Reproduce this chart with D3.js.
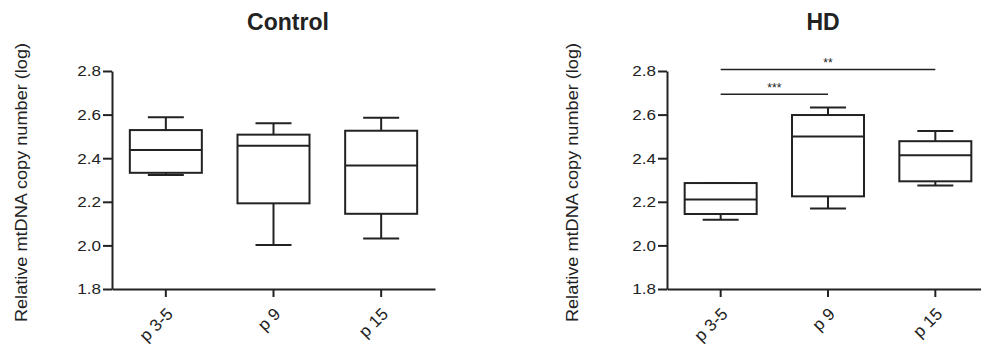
<!DOCTYPE html>
<html><head><meta charset="utf-8">
<script src="https://cdn.jsdelivr.net/npm/d3@7"></script>
<style>
html,body{margin:0;padding:0;background:#fff;}
svg{display:block;}
text{font-family:"Liberation Sans",Arial,sans-serif;fill:#222;}
</style></head>
<body>
<svg id="chart" width="981" height="348"></svg>
<script>
const categories = ["p 3-5", "p 9", "p 15"];
const yTicks = [1.8, 2.0, 2.2, 2.4, 2.6, 2.8];
const yLabel = "Relative mtDNA copy number (log)";

const controlMin    = [2.323, 2.002, 2.032];
const controlQ1     = [2.333, 2.193, 2.145];
const controlMedian = [2.438, 2.457, 2.367];
const controlQ3     = [2.529, 2.508, 2.526];
const controlMax    = [2.588, 2.560, 2.586];

const hdMin    = [2.118, 2.169, 2.275];
const hdQ1     = [2.144, 2.225, 2.294];
const hdMedian = [2.210, 2.500, 2.413];
const hdQ3     = [2.286, 2.598, 2.478];
const hdMax    = [2.286, 2.632, 2.525];

const hdSigFrom  = ["p 3-5", "p 3-5"];
const hdSigTo    = ["p 9", "p 15"];
const hdSigLevel = [2.693, 2.807];
const hdSigLabel = ["***", "**"];

const svg = d3.select("#chart");
const ink = "#222";
const FONT = '"Liberation Sans",Arial,sans-serif';

function panel(opts) {
  const {x0, x1, title, titleX, labelX, mins, q1s, meds, q3s, maxs, sig} = opts;
  const g = svg.append("g");
  const x = d3.scaleBand().domain(categories).range([x0, x1]).padding(0);
  const y = d3.scaleLinear().domain([1.8, 2.8]).range([289, 71]);

  // y axis
  const ya = g.append("g").attr("transform", `translate(${x0},0)`)
    .call(d3.axisLeft(y).tickValues(yTicks).tickFormat(d3.format(".1f")).tickSize(9).tickSizeOuter(0).tickPadding(2));
  ya.select(".domain").attr("stroke", ink).attr("stroke-width", 2);
  ya.selectAll(".tick line").attr("stroke", ink).attr("stroke-width", 2);
  ya.selectAll(".tick text").attr("font-size", 15.5).attr("fill", ink)
    .attr("x", 0).attr("transform", "translate(-11,0) scale(1.1,1)")
    .style("font-family", FONT);

  // x axis
  const xa = g.append("g").attr("transform", `translate(0,${y(1.8)})`)
    .call(d3.axisBottom(x).tickSize(8).tickSizeOuter(0));
  xa.select(".domain").attr("stroke", ink).attr("stroke-width", 2);
  xa.selectAll(".tick line").attr("stroke", ink).attr("stroke-width", 2);
  xa.selectAll(".tick text").remove();
  xa.selectAll(".tick").append("text")
    .attr("font-size", 17).attr("fill", ink)
    .attr("text-anchor", "end")
    .attr("transform", "translate(8,26) rotate(-45)")
    .style("font-family", FONT)
    .text(d => d);

  // boxes
  const bw = 72, cw = 36;
  categories.forEach((c, i) => {
    const cx = x(c) + x.bandwidth() / 2;
    const bg = g.append("g").attr("stroke", ink).attr("stroke-width", 2).attr("fill", "none");
    bg.append("line").attr("x1", cx).attr("x2", cx).attr("y1", y(maxs[i])).attr("y2", y(q3s[i]));
    bg.append("line").attr("x1", cx).attr("x2", cx).attr("y1", y(q1s[i])).attr("y2", y(mins[i]));
    bg.append("line").attr("x1", cx - cw/2).attr("x2", cx + cw/2).attr("y1", y(maxs[i])).attr("y2", y(maxs[i]));
    bg.append("line").attr("x1", cx - cw/2).attr("x2", cx + cw/2).attr("y1", y(mins[i])).attr("y2", y(mins[i]));
    bg.append("rect").attr("x", cx - bw/2).attr("width", bw)
      .attr("y", y(q3s[i])).attr("height", y(q1s[i]) - y(q3s[i]));
    bg.append("line").attr("x1", cx - bw/2).attr("x2", cx + bw/2).attr("y1", y(meds[i])).attr("y2", y(meds[i]));
  });

  // significance
  if (sig) {
    sig.from.forEach((f, i) => {
      const xa1 = x(f) + x.bandwidth()/2, xb = x(sig.to[i]) + x.bandwidth()/2;
      g.append("line").attr("x1", xa1).attr("x2", xb).attr("y1", y(sig.level[i])).attr("y2", y(sig.level[i]))
        .attr("stroke", ink).attr("stroke-width", 1.5);
      g.append("text").attr("x", (xa1 + xb)/2).attr("y", y(sig.level[i]) - 2)
        .attr("text-anchor", "middle").attr("font-size", 12).attr("fill", ink).text(sig.label[i]);
    });
  }

  // title
  g.append("text").attr("x", titleX).attr("y", 30).attr("text-anchor", "middle")
    .attr("font-size", 23).attr("font-weight", "bold").attr("fill", ink).text(title);

  // y label
  g.append("text").attr("transform", `translate(${labelX},182.5) rotate(-90) scale(1.1,1)`)
    .attr("text-anchor", "middle").attr("font-size", 16.5).attr("fill", ink).text(yLabel);
}

panel({x0: 112, x1: 435, title: "Control", titleX: 288, labelX: 27,
  mins: controlMin, q1s: controlQ1, meds: controlMedian, q3s: controlQ3, maxs: controlMax});
panel({x0: 667, x1: 989, title: "HD", titleX: 823, labelX: 578,
  mins: hdMin, q1s: hdQ1, meds: hdMedian, q3s: hdQ3, maxs: hdMax,
  sig: {from: hdSigFrom, to: hdSigTo, level: hdSigLevel, label: hdSigLabel}});
</script>
</body></html>
